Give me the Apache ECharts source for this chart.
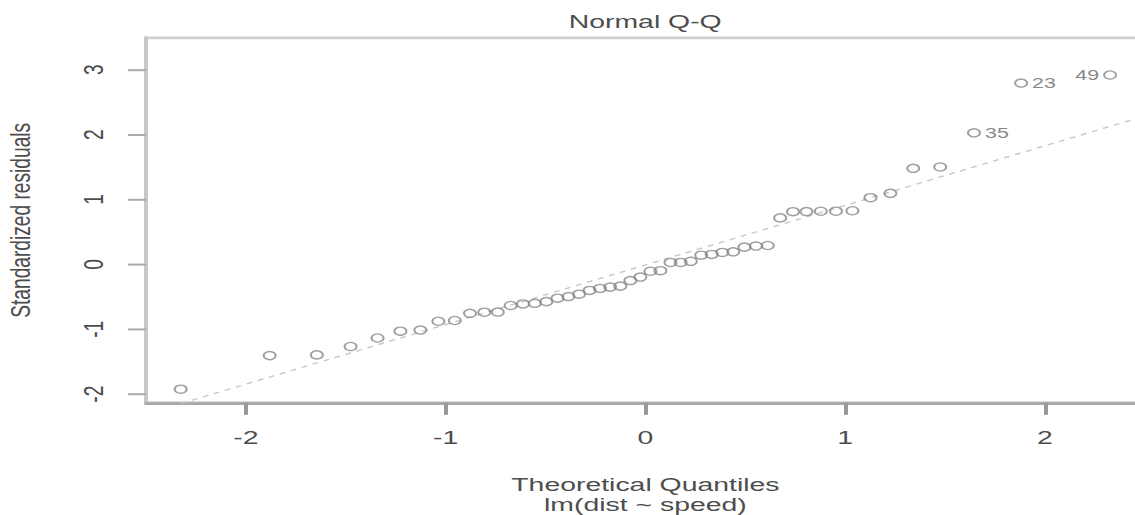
<!DOCTYPE html>
<html>
<head>
<meta charset="utf-8">
<title>Normal Q-Q</title>
<script src="https://cdn.jsdelivr.net/npm/echarts@6/dist/echarts.min.js"></script>
<style>
  html, body { margin: 0; padding: 0; background: #fff; overflow: hidden; }
  #wrap { width: 1135px; height: 515px; overflow: hidden; }
  /* the picture is a small R plot blown up unevenly, so draw small and stretch it the same way */
  #chart { width: 567.5px; height: 381.5px; transform: scale(2, 1.35); transform-origin: 0 0; }
</style>
</head>
<body>
<div id="wrap"><div id="chart"></div></div>
<script>
// theoretical quantiles (x) and sorted standardized residuals (y)
const theoQ = [
  -2.3263, -1.8808, -1.6449, -1.4758, -1.3408, -1.2265, -1.1264, -1.0364, -0.9542, -0.8779,
  -0.8064, -0.7388, -0.6745, -0.6128, -0.5534, -0.4959, -0.4399, -0.3853, -0.3319, -0.2793,
  -0.2275, -0.1764, -0.1257, -0.0753, -0.0251, 0.0251, 0.0753, 0.1257, 0.1764, 0.2275,
  0.2793, 0.3319, 0.3853, 0.4399, 0.4959, 0.5534, 0.6128, 0.6745, 0.7388, 0.8064,
  0.8779, 0.9542, 1.0364, 1.1264, 1.2265, 1.3408, 1.4758, 1.6449, 1.8808, 2.3263
]
const stdRes = [
  -1.924, -1.406, -1.395, -1.266, -1.135, -1.029, -1.012, -0.876, -0.865, -0.754,
  -0.737, -0.735, -0.634, -0.609, -0.600, -0.574, -0.521, -0.496, -0.459, -0.401,
  -0.370, -0.350, -0.335, -0.249, -0.195, -0.106, -0.097, 0.030, 0.030, 0.048,
  0.142, 0.154, 0.184, 0.194, 0.266, 0.283, 0.291, 0.717, 0.813, 0.814,
  0.819, 0.820, 0.827, 1.028, 1.095, 1.481, 1.501, 2.028, 2.795, 2.920
]
const obsId = [
  39, 24, 36, 45, 29, 12, 25, 27, 40, 20, 32, 37, 13, 30, 41, 10, 6, 16, 46, 3,
  14, 28, 42, 7, 44, 15, 21, 17, 18, 31, 5, 11, 33, 43, 1, 8, 50, 38, 4, 9,
  2, 19, 26, 47, 48, 22, 34, 35, 23, 49
]
const labelledIds = [35, 23, 49]
const labelSide = ['right', 'right', 'left']

// reference line through the quartiles
const qqLineX = [-2.6, 2.6]
const qqLineY = [-2.397, 2.380]

const xTicks = [-2, -1, 0, 1, 2]
const yTicks = [-2, -1, 0, 1, 2, 3]

const font = 'Liberation Sans, Arial, sans-serif'
const textColor = '#4d4d4d'

const points = theoQ.map((x, i) => {
  const item = { value: [x, stdRes[i]], name: String(obsId[i]) }
  const k = labelledIds.indexOf(obsId[i])
  if (k >= 0) {
    item.label = { show: true, position: labelSide[k], distance: 2 }
  }
  return item
})

const chart = echarts.init(document.getElementById('chart'), null, { renderer: 'svg' })
chart.setOption({
  animation: false,
  backgroundColor: '#fff',
  title: {
    text: 'Normal Q-Q',
    left: 322.6,
    top: 9,
    padding: 0,
    textAlign: 'center',
    textStyle: { fontFamily: font, fontSize: 14.2, fontWeight: 'normal', color: textColor }
  },
  grid: {
    left: 73,
    top: 28.1,
    bottom: 381.5 - 297.8,
    right: -4.4,
    show: true,
    borderColor: '#d0d0d0',
    borderWidth: 2,
    containLabel: false,
    outerBoundsMode: 'none'
  },
  xAxis: {
    type: 'value',
    min: -2.5,
    max: 2.5,
    name: 'Theoretical Quantiles\nlm(dist ~ speed)',
    nameLocation: 'middle',
    nameGap: 53.5,
    nameTextStyle: { fontFamily: font, fontSize: 14.2, color: textColor, lineHeight: 14.5 },
    splitLine: { show: false },
    axisLine: { show: true, onZero: false, lineStyle: { color: '#a8a8a8', width: 2 } },
    axisTick: { show: true, length: 9, customValues: xTicks, lineStyle: { color: '#999', width: 2 } },
    axisLabel: { customValues: xTicks, margin: 18.4, fontFamily: font, fontSize: 14.2, color: textColor }
  },
  yAxis: {
    type: 'value',
    min: -2.132,
    max: 3.491,
    name: 'Standardized residuals',
    nameLocation: 'middle',
    nameRotate: 90,
    nameGap: 56.2,
    nameTextStyle: { fontFamily: font, fontSize: 14.2, color: textColor },
    splitLine: { show: false },
    axisLine: { show: true, onZero: false, lineStyle: { color: '#c8c8c8', width: 2 } },
    axisTick: { show: true, length: 9, customValues: yTicks, lineStyle: { color: '#aaa', width: 1.5 } },
    axisLabel: { customValues: yTicks, rotate: 90, margin: 19.4, fontFamily: font, fontSize: 14.2, color: textColor }
  },
  series: [
    {
      type: 'line',
      data: qqLineX.map((x, i) => [x, qqLineY[i]]),
      symbol: 'none',
      silent: true,
      z: 1,
      lineStyle: { color: '#c8c8c8', width: 1, type: [3, 3] }
    },
    {
      type: 'scatter',
      data: points,
      symbol: 'circle',
      symbolSize: 6,
      z: 2,
      itemStyle: { color: 'rgba(255,255,255,0)', borderColor: '#888', borderWidth: 1 },
      label: {
        show: false,
        formatter: '{b}',
        fontFamily: font,
        fontSize: 10.7,
        color: '#666'
      }
    }
  ]
})
</script>
</body>
</html>
